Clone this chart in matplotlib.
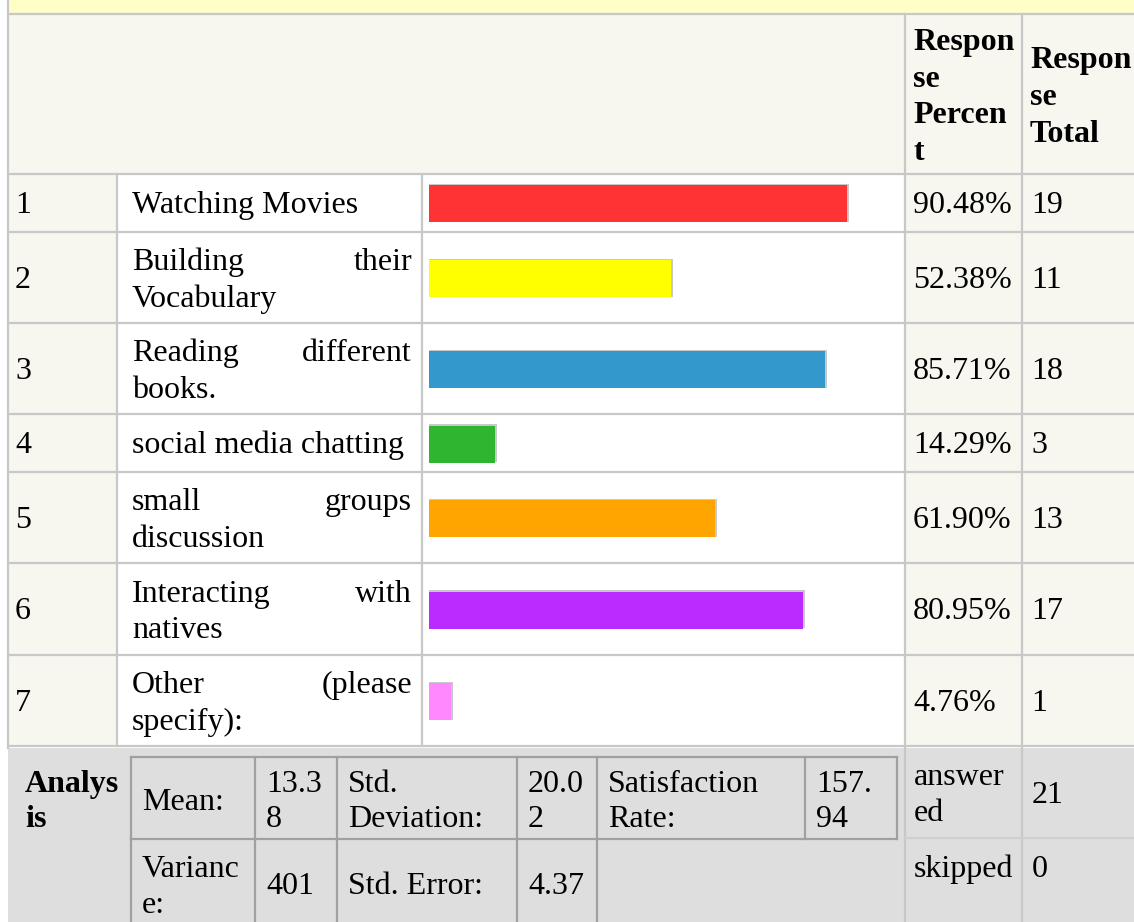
import matplotlib
matplotlib.use("Agg")
import matplotlib.pyplot as plt
from matplotlib.patches import Rectangle

# ---------------- data ----------------
ranks = [1, 2, 3, 4, 5, 6, 7]
label_lines = [
    ["Watching Movies"],
    ["Building their", "Vocabulary"],
    ["Reading different", "books."],
    ["social media chatting"],
    ["small groups", "discussion"],
    ["Interacting with", "natives"],
    ["Other (please", "specify):"],
]
percents = [90.48, 52.38, 85.71, 14.29, 61.90, 80.95, 4.76]
totals = [19, 11, 18, 3, 13, 17, 1]
bar_colors = ["#ff3333", "#ffff00", "#3399cc", "#2fb52f", "#ffa500", "#bb2bff", "#ff88ff"]

header_percent = ["Respon", "se", "Percen", "t"]
header_total = ["Respon", "se", "Total"]

mean_val = ["13.3", "8"]
std_val = ["20.0", "2"]
sat_val = ["157.", "94"]
var_val = "401"
stderr_val = "4.37"
answered = 21
skipped = 0

# ---------------- layout ----------------
W, H = 1134, 922
fig = plt.figure(figsize=(W / 100, H / 100), dpi=100)
ax = fig.add_axes([0, 0, 1, 1])
ax.set_xlim(0, W)
ax.set_ylim(H, 0)
ax.axis("off")

FONT = "Liberation Serif"
FS = 23
BEIGE = "#f7f7f0"
GRID = "#c8c8c8"
GRAY = "#dedede"

def rect(x0, y0, x1, y1, fc, z=0):
    ax.add_patch(Rectangle((x0, y0), x1 - x0, y1 - y0, facecolor=fc, edgecolor="none", zorder=z))

def txt(x, y, s, ha="left", bold=False):
    # y is the text baseline in pixels
    ax.text(x, y, s, ha=ha, va="baseline", fontsize=FS, family=FONT,
            fontweight="bold" if bold else "normal", color="black", zorder=5)

# top strip
rect(8, 0, W, 14, "#fffdc8")
# header
rect(8, 14, W, 174, BEIGE)

row_edges = [174, 232, 323, 414, 472, 563, 655, 746]

for i in range(7):
    y0, y1 = row_edges[i], row_edges[i + 1]
    rect(8, y0, 117, y1, BEIGE)
    rect(117, y0, 905, y1, "white")
    rect(905, y0, W, y1, BEIGE)

# analysis area
rect(8, 748, W, H, GRAY)

# grid lines
for y in [14] + row_edges:
    ax.plot([8, W], [y, y], color=GRID, lw=1.6, zorder=2, solid_capstyle="butt")
ax.plot([8, 8], [0, 748], color=GRID, lw=1.6, zorder=2)
for x in [905, 1022]:
    ax.plot([x, x], [14, H], color=GRID, lw=1.6, zorder=2)
for x in [117, 422]:
    ax.plot([x, x], [174, 746], color=GRID, lw=1.6, zorder=2)
ax.plot([905, W], [838, 838], color="#cfcfcf", lw=1.6, zorder=2)

# header text
for k, s in enumerate(header_percent):
    txt(913, 50 + k * 36.7, s, bold=True)
for k, s in enumerate(header_total):
    txt(1030, 68 + k * 37, s, bold=True)

# rows
for i in range(7):
    y0, y1 = row_edges[i], row_edges[i + 1]
    yc = (y0 + y1) / 2
    yb = yc + 10
    txt(15, yb, str(ranks[i]))
    lines = label_lines[i]
    if len(lines) == 1:
        txt(132, yb, lines[0])
    else:
        y1l, y2l = yc - 7.5, yc + 29
        words = lines[0].split(" ")
        txt(132, y1l, words[0])
        txt(412, y1l, words[-1], ha="right")
        txt(132, y2l, lines[1])
    txt(913, yb, f"{percents[i]:.2f}%")
    txt(1031, yb, str(totals[i]))

# bars (own axes in percent units)
bx0, bscale = 429, 4.62
bax = fig.add_axes([bx0 / W, 0, 100 * bscale / W, 1])
bax.set_xlim(0, 100)
bax.set_ylim(H, 0)
bax.axis("off")
bax.patch.set_alpha(0)
centers = [(row_edges[i] + row_edges[i + 1]) / 2 + 1 for i in range(7)]
bar_h = 37
bax.barh([c - 1 for c in centers], [p + 0.45 for p in percents], height=bar_h + 1,
         left=0, color="#c8c8c8", zorder=3)
bax.barh(centers, percents, height=bar_h, left=0, color=bar_colors, zorder=4)

# analysis section
IN = "#a0a0a0"
txt(25, 792, "Analys", bold=True)
txt(25, 827, "is", bold=True)
inner_x = [131, 255, 337, 517, 597, 805, 897]
ax.plot([131, 897], [757, 757], color=IN, lw=1.6, zorder=3)
ax.plot([131, 897], [839, 839], color=IN, lw=1.6, zorder=3)
for x in inner_x:
    ax.plot([x, x], [757, 839], color=IN, lw=1.6, zorder=3)
for x in inner_x[:5]:
    ax.plot([x, x], [839, H], color=IN, lw=1.6, zorder=3)

txt(142, 810, "Mean:")
txt(266, 792, mean_val[0]); txt(266, 827, mean_val[1])
txt(348, 792, "Std."); txt(348, 827, "Deviation:")
txt(528, 792, std_val[0]); txt(528, 827, std_val[1])
txt(608, 792, "Satisfaction"); txt(608, 827, "Rate:")
txt(816, 792, sat_val[0]); txt(816, 827, sat_val[1])

txt(142, 877, "Varianc"); txt(142, 913, "e:")
txt(266, 894, var_val)
txt(348, 894, "Std. Error:")
txt(528, 894, stderr_val)

txt(914, 785, "answer"); txt(914, 821, "ed")
txt(1032, 803, str(answered))
txt(914, 877, "skipped")
txt(1032, 877, str(skipped))

fig.savefig("out.png", dpi=100)
